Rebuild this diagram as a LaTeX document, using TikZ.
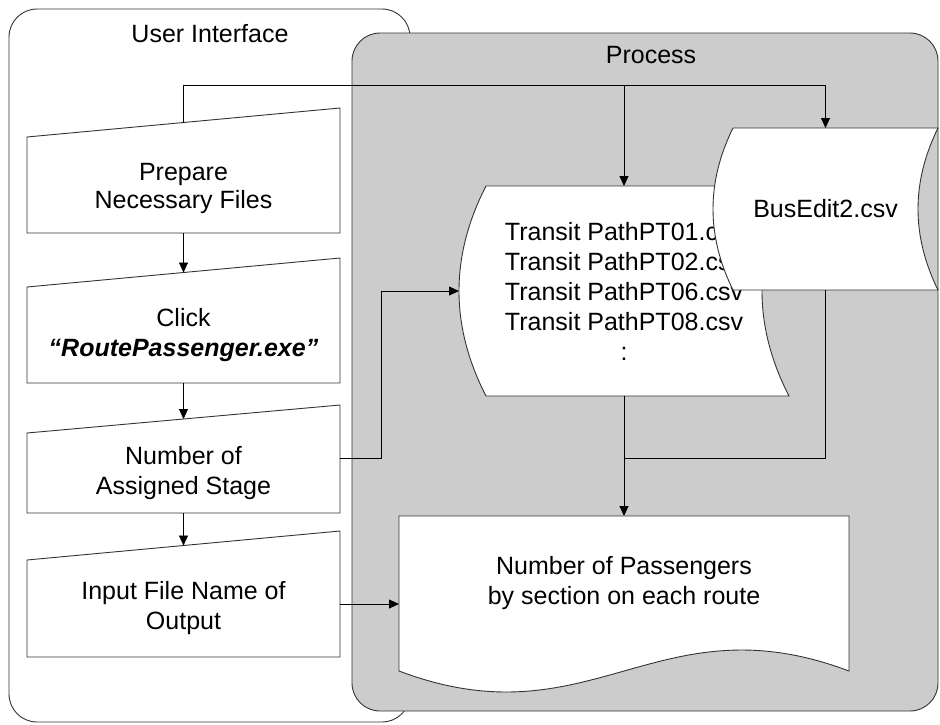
\documentclass[tikz,border=0pt]{standalone}
\usepackage{fontspec}
\setmainfont{Liberation Sans}
\usetikzlibrary{arrows.meta,calc}
\definecolor{panelgray}{HTML}{CCCCCC}
\definecolor{ink}{HTML}{333333}

% manual-input outline: sloped top rising to the right by #2
\newcommand{\manualoutline}[2]{%
  \draw[shapeline] (#1.north west) -- ($(#1.north east)+(0,-#2)$)
    -- (#1.south east) -- (#1.south west) -- cycle;
  \coordinate (#1-top) at ($(#1.north)+(0,-#2/2)$);}

% stored-data outline: both sides curved to the left by #2
\newcommand{\storedoutline}[2]{%
  \draw[shapeline, fill=white]
    ($(#1.north west)+(#2,0)$) -- (#1.north east)
    .. controls ($(#1.north east)!0.3333!(#1.south east)+(-4*#2/3,0)$)
       and ($(#1.north east)!0.6667!(#1.south east)+(-4*#2/3,0)$) .. (#1.south east)
    -- ($(#1.south west)+(#2,0)$)
    .. controls ($(#1.north west)!0.6667!(#1.south west)+(-#2/3,0)$)
       and ($(#1.north west)!0.3333!(#1.south west)+(-#2/3,0)$) .. ($(#1.north west)+(#2,0)$)
    -- cycle;}

\begin{document}
\begin{tikzpicture}[x=1pt,y=-1pt,
  every node/.style={font=\fontsize{25}{30}\selectfont, inner sep=0pt, outer sep=0pt},
  slot/.style 2 args={minimum width=#1, minimum height=#2},
  shapeline/.style={draw=ink, line width=0.9pt},
  frame/.style={draw=ink, line width=0.9pt, rounded corners=28pt},
  conn/.style={draw=black, line width=0.9pt},
  arrowconn/.style={conn, -{Triangle[length=10pt,width=9pt]}},
  txt/.style={align=center, text=black}]

\useasboundingbox (0,0) rectangle (940,724);

% swimlane frames
\draw[frame, fill=white] (9,9) rectangle (410,722);
\draw[frame, fill=panelgray] (352,33) rectangle (938,711);
\node[anchor=base] (ui-title) at (210,42) {User Interface};
\node[anchor=base] (proc-title) at (651,63) {Process};

% user interface steps
\node[slot={313pt}{96pt}] (prep) at (183.5,185) {};
\manualoutline{prep}{29}
\node[txt, font=\fontsize{25}{28}\selectfont] (prep-txt) at ($(prep.center)+(0,3)$)
  {Prepare\\Necessary Files};
\node[slot={313pt}{96pt}, txt] (click) at (183.5,335)
  {Click\\\textbf{\textit{“RoutePassenger.exe”}}};
\manualoutline{click}{29}
\node[slot={313pt}{80pt}, txt] (stage) at (183.5,473) {Number of\\Assigned Stage};
\manualoutline{stage}{28}
\node[slot={313pt}{97pt}, txt] (outname) at (183.5,608.5) {Input File Name of\\Output};
\manualoutline{outname}{29}

% stored data files
\node[slot={330pt}{210pt}] (transit) at (624,291) {};
\storedoutline{transit}{27}
\node[txt] (transit-txt) at (transit.center)
  {Transit PathPT01.csv\\Transit PathPT02.csv\\Transit PathPT06.csv\\Transit PathPT08.csv\\:};
\node[slot={225pt}{162pt}] (busedit) at (825.5,209) {};
\storedoutline{busedit}{20}
\node[txt] (busedit-txt) at (busedit.center) {BusEdit2.csv};

% output document
\node[slot={450pt}{176pt}] (doc) at (624,604) {};
\draw[shapeline, fill=white] (doc.north west) -- (doc.north east)
  -- ($(doc.south east)+(0,-21)$)
  .. controls ($(doc.south east)+(-192.5,-93.7)$) and ($(doc.south west)+(192.5,51.7)$)
  .. ($(doc.south west)+(0,-21)$) -- cycle;
\node[txt] (doc-txt) at ($(doc.center)+(0,-21)$)
  {Number of Passengers\\by section on each route};

% connectors
\draw[arrowconn] (prep.south) -- (click-top);
\draw[arrowconn] (click.south) -- (stage-top);
\draw[arrowconn] (stage.south) -- (outname-top);
\draw[arrowconn] (prep-top) -- ++(0,-37) coordinate (bus-line) -| (busedit.north);
\draw[arrowconn] (bus-line -| transit.north) -- (transit.north);
\draw[arrowconn] ($(stage.east)+(0,-15)$) -- ++(41,0) |- (transit.west);
\draw[arrowconn] (outname.east |- doc.west) -- (doc.west);
\draw[arrowconn] (transit.south) -- (doc.north);
\draw[conn] (busedit.south) |- ($(transit.south)+(0,62)$);
\end{tikzpicture}
\end{document}
